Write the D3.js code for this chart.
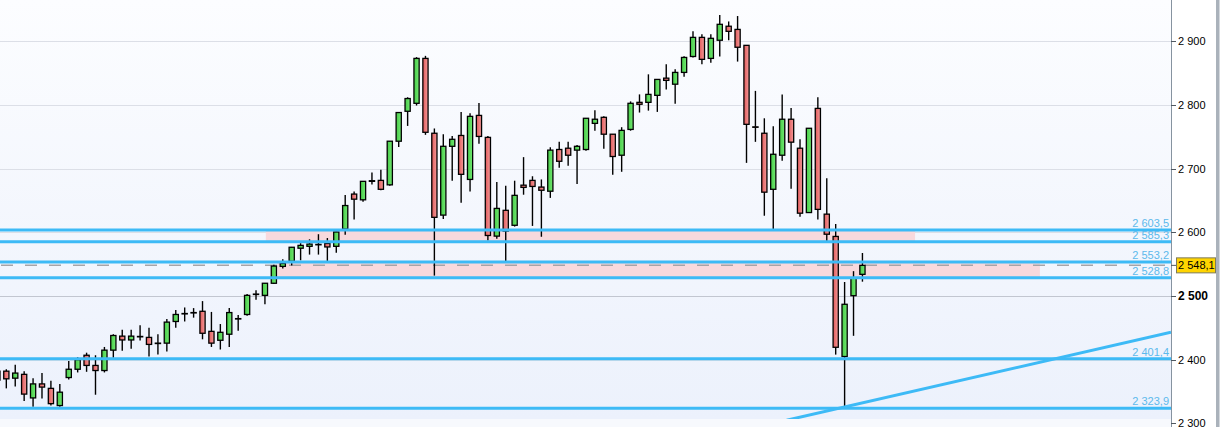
<!DOCTYPE html>
<html><head><meta charset="utf-8">
<script src="https://cdn.jsdelivr.net/npm/d3@7"></script>
<style>html,body{margin:0;padding:0;background:#fff;overflow:hidden}</style>
</head><body><svg id="c" width="1221" height="427"></svg>
<script>
// ---- data ----
const firstIndex = -1;
const openV  = [2382,2382,2371,2377,2340,2362,2355,2328,2372,2385,2407,2391,2383,2415,2437,2431,2436.5,2435,2425.5,2426,2460,2472,2474,2476,2444.5,2430.5,2440,2464,2471,2502.5,2501,2520,2546.5,2554.5,2575,2578,2581,2582.5,2578,2605,2660,2651,2680,2681.5,2674.5,2743,2790,2802.5,2873,2755.5,2627,2735,2752,2683,2783.5,2749,2594,2634.5,2611,2674,2681.5,2671,2664.5,2730,2732,2729,2730,2771,2780.5,2754,2721,2761.5,2804,2804,2815,2842,2832.5,2851,2876,2906,2873,2901.5,2923.5,2918.5,2893.5,2765.5,2755.5,2667.5,2721,2777.5,2732,2631,2794.5,2628.5,2593.5,2405,2500.5,2534];
const highV  = [2387,2385,2392,2382,2371,2379,2367,2362,2398,2404,2411,2407,2420,2440,2447,2447,2454,2450,2440,2464,2478,2482,2481,2492,2475,2456,2481,2470,2503,2509,2520.5,2549,2557.5,2577,2583,2589,2597,2591,2601,2658.5,2664,2680.5,2694,2698,2743.5,2789,2812,2875,2877,2763,2754,2751,2789,2787,2803,2751,2679,2673,2681,2718,2688,2683,2733.5,2742,2742,2737,2779.5,2791.5,2782,2754.5,2765,2805.5,2816.5,2848,2840.5,2864,2856,2876.5,2915.5,2911,2911,2941,2931,2939.5,2894,2822,2779,2766.5,2816.5,2795,2746,2763.5,2812,2685,2613,2522,2539,2567.5];
const lowV   = [2363,2355,2358,2335,2326,2339,2328,2326,2369,2380,2381,2345,2380,2403,2414,2417,2430,2405,2408,2413,2450,2460,2466,2432,2420,2416,2420,2445.5,2469,2494,2487,2519,2543,2548,2556,2565,2565,2555,2568,2596,2620,2648,2675,2666,2673,2734,2767,2799,2753,2532,2621,2681,2646.5,2664,2739,2587,2590,2555,2609,2659,2610,2593,2654,2701.5,2704.5,2676,2728,2759.5,2731,2690.5,2695,2759.5,2788,2791,2789,2824,2802,2844,2874.5,2864,2866,2876,2901.5,2868,2709,2742,2626,2604.5,2712.5,2668.5,2624.5,2631,2620,2586.5,2408,2324,2437.5,2522.5];
const closeV = [2368,2370,2379,2346,2362,2357,2331,2349,2385,2400,2391,2383,2415,2438,2431,2437,2436,2424,2426,2459,2471,2472.5,2473.5,2441.5,2426,2443,2474,2464.5,2501,2503,2520,2547,2551,2576.5,2579.5,2581.5,2580.5,2577,2600.5,2642,2652,2680,2681,2667.5,2743,2788,2810,2873,2757,2623.5,2735,2746,2691,2782,2750.5,2595,2637.5,2602,2658,2670.5,2672,2666,2729,2711.5,2721,2735,2779,2777.5,2754,2719,2760,2802.5,2801,2816.5,2840,2838.5,2851,2874.5,2906,2871.5,2904.5,2926.5,2915.5,2890.5,2769.5,2765,2663,2722.5,2777.5,2741.5,2630,2763.3,2636,2597,2419.5,2487,2528.5,2548.1];
const levels = [2603.5, 2585.3, 2553.2, 2528.8, 2401.4, 2323.9];
const yTicks = [2300, 2400, 2500, 2600, 2700, 2800, 2900];
const majorTick = 2500;
const lastPrice = 2548.1;
const zoneFrom = [29.1, 30.4], zoneTo = [101.9, 115.9], zoneTop = [2603.5, 2553.2], zoneBottom = [2585.3, 2528.8];
const trendIdx = [87.5, 130.6], trendVal = [2305, 2443];

// ---- layout ----
const W = 1221, H = 427, plotR = 1171, plotB = 419;
const svg = d3.select('#c');
const x = d3.scaleLinear().domain([-1, 130.6]).range([-2.6, plotR]);
const y = d3.scaleLinear().domain([2300, 2900]).range([423.4, 41.2]);
const loc = d3.formatLocale({decimal: ",", thousands: " ", grouping: [3], currency: ["", ""]});
const fInt = loc.format(",d"), fDec = loc.format(",.1f");
const FONT = 'Liberation Sans, Arial, sans-serif';

const defs = svg.append('defs');
const bg = defs.append('linearGradient').attr('id','bg').attr('x1',0).attr('y1',0).attr('x2',0).attr('y2',1);
bg.append('stop').attr('offset','0%').attr('stop-color','#fcfdff');
bg.append('stop').attr('offset','100%').attr('stop-color','#ecf1fc');
const gG = defs.append('linearGradient').attr('id','gg').attr('x1',0).attr('x2',1).attr('y1',0).attr('y2',0);
gG.append('stop').attr('offset','0%').attr('stop-color','#48cc48');
gG.append('stop').attr('offset','100%').attr('stop-color','#72e872');
const rG = defs.append('linearGradient').attr('id','rg').attr('x1',0).attr('x2',1).attr('y1',0).attr('y2',0);
rG.append('stop').attr('offset','0%').attr('stop-color','#e05a5a');
rG.append('stop').attr('offset','100%').attr('stop-color','#f49a9a');
defs.append('clipPath').attr('id','clip').append('rect').attr('x',0).attr('y',0).attr('width',plotR).attr('height',plotB);

svg.append('rect').attr('width',W).attr('height',H).attr('fill','#ffffff');
svg.append('rect').attr('x',0).attr('y',0).attr('width',plotR).attr('height',plotB).attr('fill','url(#bg)');
svg.append('rect').attr('x',0).attr('y',plotB).attr('width',plotR).attr('height',H-plotB).attr('fill','#f7f9fd');

const plot = svg.append('g').attr('clip-path','url(#clip)');

// grid
plot.selectAll('.grid').data(yTicks).join('line')
  .attr('x1',0).attr('x2',plotR).attr('y1',d=>Math.round(y(d))+0.5).attr('y2',d=>Math.round(y(d))+0.5)
  .attr('stroke',d=>d===majorTick?'#c2c6d0':'#dcdfe7').attr('stroke-width',1);

// zones
plot.selectAll('.zone').data(zoneFrom).join('rect')
  .attr('x',(d,k)=>x(zoneFrom[k])).attr('width',(d,k)=>x(zoneTo[k])-x(zoneFrom[k]))
  .attr('y',(d,k)=>y(zoneTop[k])).attr('height',(d,k)=>y(zoneBottom[k])-y(zoneTop[k]))
  .attr('fill','#f8d9dd');

// dashed last price line
plot.append('line').attr('x1',1).attr('x2',1168).attr('y1',y(lastPrice)).attr('y2',y(lastPrice))
  .attr('stroke','#a4a4a8').attr('stroke-width',1.5).attr('stroke-dasharray','12 12');

// candles
const candles = openV.map((o,k)=>({i:k+firstIndex,o,h:highV[k],l:lowV[k],c:closeV[k]}));
const cg = plot.append('g');
cg.selectAll('.wick').data(candles).join('line')
  .attr('x1',d=>x(d.i)).attr('x2',d=>x(d.i)).attr('y1',d=>y(d.h)).attr('y2',d=>y(d.l))
  .attr('stroke','#000').attr('stroke-width',1.4);
const bw = 5.2;
cg.selectAll('.body').data(candles).join('rect')
  .attr('x',d=>x(d.i)-bw/2).attr('width',bw)
  .attr('y',d=>y(Math.max(d.o,d.c))).attr('height',d=>Math.max(0.4,Math.abs(y(d.o)-y(d.c))))
  .attr('fill',d=>d.c>=d.o?'url(#gg)':'url(#rg)')
  .attr('stroke','#000').attr('stroke-width',1.3);

// level lines
plot.selectAll('.lvl').data(levels).join('line')
  .attr('x1',0).attr('x2',plotR).attr('y1',d=>y(d)).attr('y2',d=>y(d))
  .attr('stroke','#3dbaf6').attr('stroke-width',3);

// trend line
plot.append('line')
  .attr('x1',x(trendIdx[0])).attr('y1',y(trendVal[0])).attr('x2',x(trendIdx[1])).attr('y2',y(trendVal[1]))
  .attr('stroke','#3dbaf6').attr('stroke-width',3);

// level labels
svg.selectAll('.lvlt').data(levels).join('text')
  .attr('x',1169).attr('y',d=>y(d)-3).attr('text-anchor','end')
  .attr('font-family',FONT).attr('font-size',11)
  .attr('fill','#5cb9ec').text(d=>fDec(d));

// axis
svg.append('line').attr('x1',plotR+0.5).attr('x2',plotR+0.5).attr('y1',0).attr('y2',H).attr('stroke','#8693a0');
const ax = svg.append('g');
ax.selectAll('.tk').data(yTicks).join('line')
  .attr('x1',plotR).attr('x2',plotR+5).attr('y1',d=>Math.round(y(d))+0.5).attr('y2',d=>Math.round(y(d))+0.5)
  .attr('stroke','#505860');
ax.selectAll('.tl').data(yTicks).join('text')
  .attr('x',plotR+7).attr('y',d=>y(d)).attr('dy','0.36em')
  .attr('font-family',FONT)
  .attr('font-size',d=>d===majorTick?12:11).attr('font-weight',d=>d===majorTick?'bold':'normal')
  .attr('fill','#000').text(d=>fInt(d));

// price tag
svg.append('line').attr('x1',plotR).attr('x2',plotR+5).attr('y1',y(lastPrice)).attr('y2',y(lastPrice)).attr('stroke','#505860');
svg.append('rect').attr('x',1176.5).attr('y',y(lastPrice)-7.5).attr('width',39).attr('height',15)
  .attr('fill','#ffd400').attr('stroke','#7d7a5a').attr('stroke-width',1);
svg.append('text').attr('x',1178).attr('y',y(lastPrice)).attr('dy','0.36em')
  .attr('font-family',FONT).attr('font-size',11).attr('fill','#000')
  .text(fDec(lastPrice));

// right scrollbar strip
svg.append('rect').attr('x',1216).attr('y',0).attr('width',3.5).attr('height',H).attr('fill','#aab2bb');
</script></body></html>
